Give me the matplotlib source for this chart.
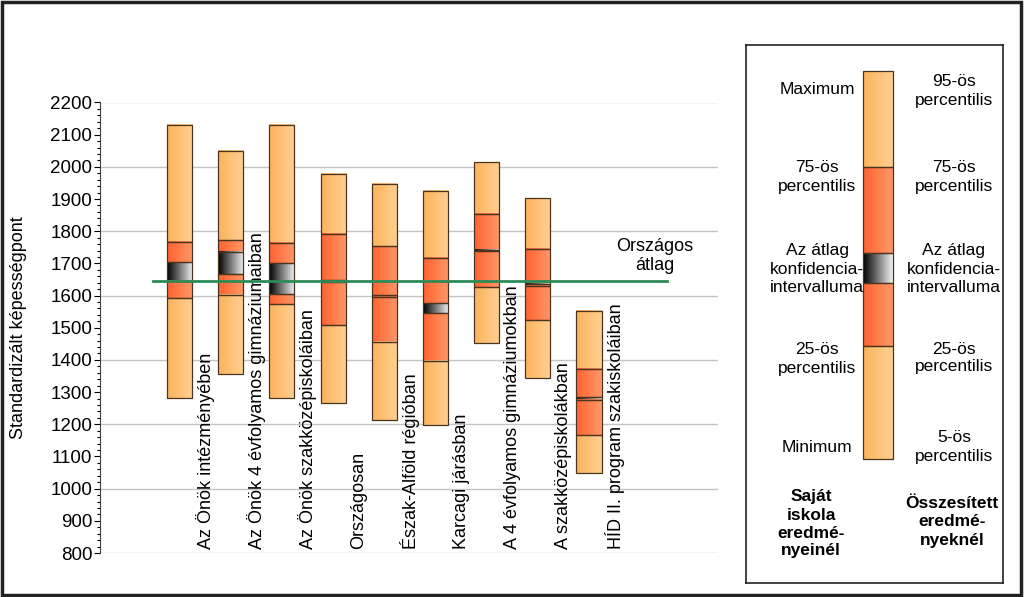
import numpy as np
import matplotlib

matplotlib.use("Agg")
import matplotlib.pyplot as plt
from matplotlib.colors import LinearSegmentedColormap
from matplotlib.patches import Rectangle
from matplotlib.ticker import MultipleLocator

plt.rcParams["font.family"] = ["Liberation Sans", "DejaVu Sans"]
FS = 13
LFS = 12.5

categories = [
    "Az Önök intézményében",
    "Az Önök 4 évfolyamos gimnáziumaiban",
    "Az Önök szakközépiskoláiban",
    "Országosan",
    "Észak-Alföld régióban",
    "Karcagi járásban",
    "A 4 évfolyamos gimnáziumokban",
    "A szakközépiskolákban",
    "HÍD II. program szakiskoláiban",
]
p_top = [2130, 2050, 2130, 1978, 1946, 1926, 2014, 1903, 1553]
p75 = [1766, 1772, 1763, 1790, 1753, 1716, 1854, 1745, 1372]
ci_hi = [1703, 1736, 1700, 1647, 1603, 1576, 1742, 1636, 1284]
ci_lo = [1646, 1667, 1604, 1641, 1597, 1545, 1738, 1629, 1276]
p25 = [1591, 1602, 1573, 1508, 1456, 1396, 1627, 1523, 1166]
p_bot = [1281, 1356, 1282, 1267, 1213, 1197, 1453, 1344, 1049]
national_avg = 1644

# legend bar, pixel rows inside the legend box (top = 0)
legend_edges = [26, 122, 208, 238, 301, 414]

light = LinearSegmentedColormap.from_list("light", ["#FCB35C", "#FFD092"])
red = LinearSegmentedColormap.from_list("red", ["#FF6230", "#FF9868"])
ci = LinearSegmentedColormap.from_list("ci", ["#000000", "#F2F2F2"])
EDGE = "#4A3420"
GRAD = np.linspace(0, 1, 64).reshape(1, -1)


def seg(ax, x0, x1, lo, hi, cmap):
    ax.imshow(GRAD, cmap=cmap, extent=(x0, x1, lo, hi), aspect="auto",
              interpolation="bilinear", origin="lower", zorder=2)
    ax.add_patch(Rectangle((x0, lo), x1 - x0, hi - lo, fill=False,
                           edgecolor=EDGE, linewidth=0.9, zorder=3))


fig = plt.figure(figsize=(10.24, 5.97), dpi=100)
ax = fig.add_axes([100 / 1024, 44 / 597, 618 / 1024, 450.5 / 597])

w = 0.49
for i in range(len(categories)):
    x0, x1 = i - w / 2, i + w / 2
    seg(ax, x0, x1, p75[i], p_top[i], light)
    seg(ax, x0, x1, ci_hi[i], p75[i], red)
    seg(ax, x0, x1, ci_lo[i], ci_hi[i], ci)
    seg(ax, x0, x1, p25[i], ci_lo[i], red)
    seg(ax, x0, x1, p_bot[i], p25[i], light)
    ax.text(i + 0.5, 812, categories[i], rotation=90, ha="center", va="bottom",
            fontsize=FS, zorder=4)

for g in range(800, 2201, 200):
    ax.axhline(g, color="#C4C4C4", linewidth=1.0, zorder=1)

ax.plot([-0.52, 9.52], [national_avg, national_avg], color="#2E8B57",
        linewidth=2.0, zorder=5)
ax.text(9.29, 1723, "Országos\nátlag", ha="center", va="center",
        fontsize=FS, linespacing=1.2)

ax.set_xlim(-1.553, 10.52)
ax.set_ylim(800, 2200)
ax.yaxis.set_major_locator(MultipleLocator(100))
ax.yaxis.set_minor_locator(MultipleLocator(20))
ax.tick_params(axis="y", which="major", length=4, width=0.8, labelsize=13.5, pad=1.5)
ax.tick_params(axis="y", which="minor", length=2.5, width=0.8)
ax.set_xticks([])
for s in ("top", "right", "bottom"):
    ax.spines[s].set_visible(False)
ax.spines["left"].set_color("#404040")
ax.set_ylabel("Standardizált képességpont", fontsize=FS)
ax.yaxis.set_label_coords(-73 / 618, 0.5)

# legend box
lax = fig.add_axes([746 / 1024, 14 / 597, 257 / 1024, 538 / 597])
lax.set_xticks([])
lax.set_yticks([])
for s in lax.spines.values():
    s.set_linewidth(1.2)
    s.set_color("#222222")
cmaps = [light, red, ci, red, light]
for k, cm in enumerate(cmaps):
    top, bot = legend_edges[k], legend_edges[k + 1]
    lax.imshow(GRAD, cmap=cm, extent=(117, 147, bot, top), aspect="auto",
               interpolation="bilinear", zorder=2)
    lax.add_patch(Rectangle((117, top), 30, bot - top, fill=False,
                            edgecolor=EDGE, linewidth=0.9, zorder=3))
lax.set_xlim(0, 257)
lax.set_ylim(538, 0)

left_texts = [
    ("Maximum", 45),
    ("75-ös\npercentilis", 132),
    ("Az átlag\nkonfidencia-\nintervalluma", 224),
    ("25-ös\npercentilis", 314),
    ("Minimum", 403),
]
right_texts = [
    ("95-ös\npercentilis", 46),
    ("75-ös\npercentilis", 132),
    ("Az átlag\nkonfidencia-\nintervalluma", 224),
    ("25-ös\npercentilis", 313),
    ("5-ös\npercentilis", 402),
]
for t, y in left_texts:
    lax.text(71, y, t, ha="center", va="center", fontsize=LFS, linespacing=1.25)
for t, y in right_texts:
    lax.text(208, y, t, ha="center", va="center", fontsize=LFS, linespacing=1.25)
lax.text(65, 479, "Saját\niskola\neredmé-\nnyeinél", ha="center", va="center",
         fontsize=LFS, fontweight="bold", linespacing=1.25)
lax.text(206, 477, "Összesített\neredmé-\nnyeknél", ha="center", va="center",
         fontsize=LFS, fontweight="bold", linespacing=1.25)

# outer frame
fig.add_artist(Rectangle((0.002, 0.003), 0.995, 0.994, transform=fig.transFigure,
                         fill=False, edgecolor="#222222", linewidth=2.5))

fig.savefig("out.png", dpi=100)
